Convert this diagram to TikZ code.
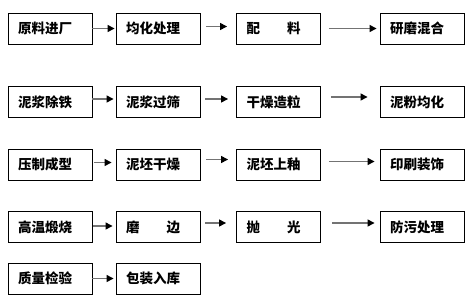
\documentclass[tikz,border=0pt]{standalone}
\usepackage{fontspec}
\newfontfamily\cjk{Noto Sans CJK SC}
\usetikzlibrary{arrows.meta}

\begin{document}
\begin{tikzpicture}[
        x=1pt, y=-1pt,
        step box/.style={draw, line width=0.9pt, minimum width=84pt, minimum height=31pt,
                inner sep=0pt, text width=64pt, align=left},
        flow/.style={draw=black!55, line width=1.3pt,
                -{Triangle[length=7pt,width=7pt,color=black]}},
        every node/.style={font=\cjk\bfseries\fontsize{13.5}{15}\selectfont}
    ]
    \useasboundingbox (0,0) rectangle (476,305);

    \node[step box] (yuanliao) at (50,28.5) {原料进厂};
    \node[step box] (junhua) at (158,28.5) {均化处理};
    \node[step box] (peiliao) at (278.5,28.5) {配　　料};
    \node[step box] (yanmo) at (422,28.5) {研磨混合};

    \node[step box] (chutie) at (50,102) {泥浆除铁};
    \node[step box] (guoshai) at (158,102) {泥浆过筛};
    \node[step box] (zaoli) at (278.5,102) {干燥造粒};
    \node[step box] (nifen) at (422,102) {泥粉均化};

    \node[step box] (yazhi) at (50,164.5) {压制成型};
    \node[step box] (ganzao) at (158,164.5) {泥坯干燥};
    \node[step box] (shangyou) at (278.5,164.5) {泥坯上釉};
    \node[step box] (yinshua) at (422,164.5) {印刷装饰};

    \node[step box] (duanshao) at (50,227) {高温煅烧};
    \node[step box] (mobian) at (158,227) {磨　　边};
    \node[step box] (paoguang) at (278.5,227) {抛　　光};
    \node[step box] (fangwu) at (422,227) {防污处理};

    \node[step box] (jianyan) at (50,278.5) {质量检验};
    \node[step box] (baozhuang) at (158,278.5) {包装入库};

    \draw[flow, shorten >=1pt] (yuanliao) -- (junhua);
    \draw[flow, shorten <=6pt, shorten >=9pt, transform canvas={yshift=2pt}] (junhua) -- (peiliao);
    \draw[flow, shorten <=8pt, shorten >=3pt] (peiliao) -- (yanmo);

    \draw[flow, shorten >=2pt, transform canvas={yshift=3pt}] (chutie) -- (guoshai);
    \draw[flow, shorten <=5pt, shorten >=8pt, transform canvas={yshift=3pt}] (guoshai) -- (zaoli);
    \draw[flow, shorten <=10pt, shorten >=12pt, transform canvas={yshift=5pt}] (zaoli) -- (nifen);

    \draw[flow, shorten <=2pt, shorten >=4pt, transform canvas={yshift=2pt}] (yazhi) -- (ganzao);
    \draw[flow, shorten <=6pt, shorten >=8pt, transform canvas={yshift=5pt}] (ganzao) -- (shangyou);
    \draw[flow, shorten <=8pt, shorten >=5pt, transform canvas={yshift=3pt}] (shangyou) -- (yinshua);

    \draw[flow, shorten <=1pt, shorten >=3pt, transform canvas={yshift=1pt}] (duanshao) -- (mobian);
    \draw[flow, shorten <=5pt, shorten >=10pt, transform canvas={yshift=4pt}] (mobian) -- (paoguang);
    \draw[flow, shorten <=11pt, shorten >=5pt, transform canvas={yshift=4pt}] (paoguang) -- (fangwu);

    \draw[flow, shorten >=2pt] (jianyan) -- (baozhuang);
\end{tikzpicture}
\end{document}
